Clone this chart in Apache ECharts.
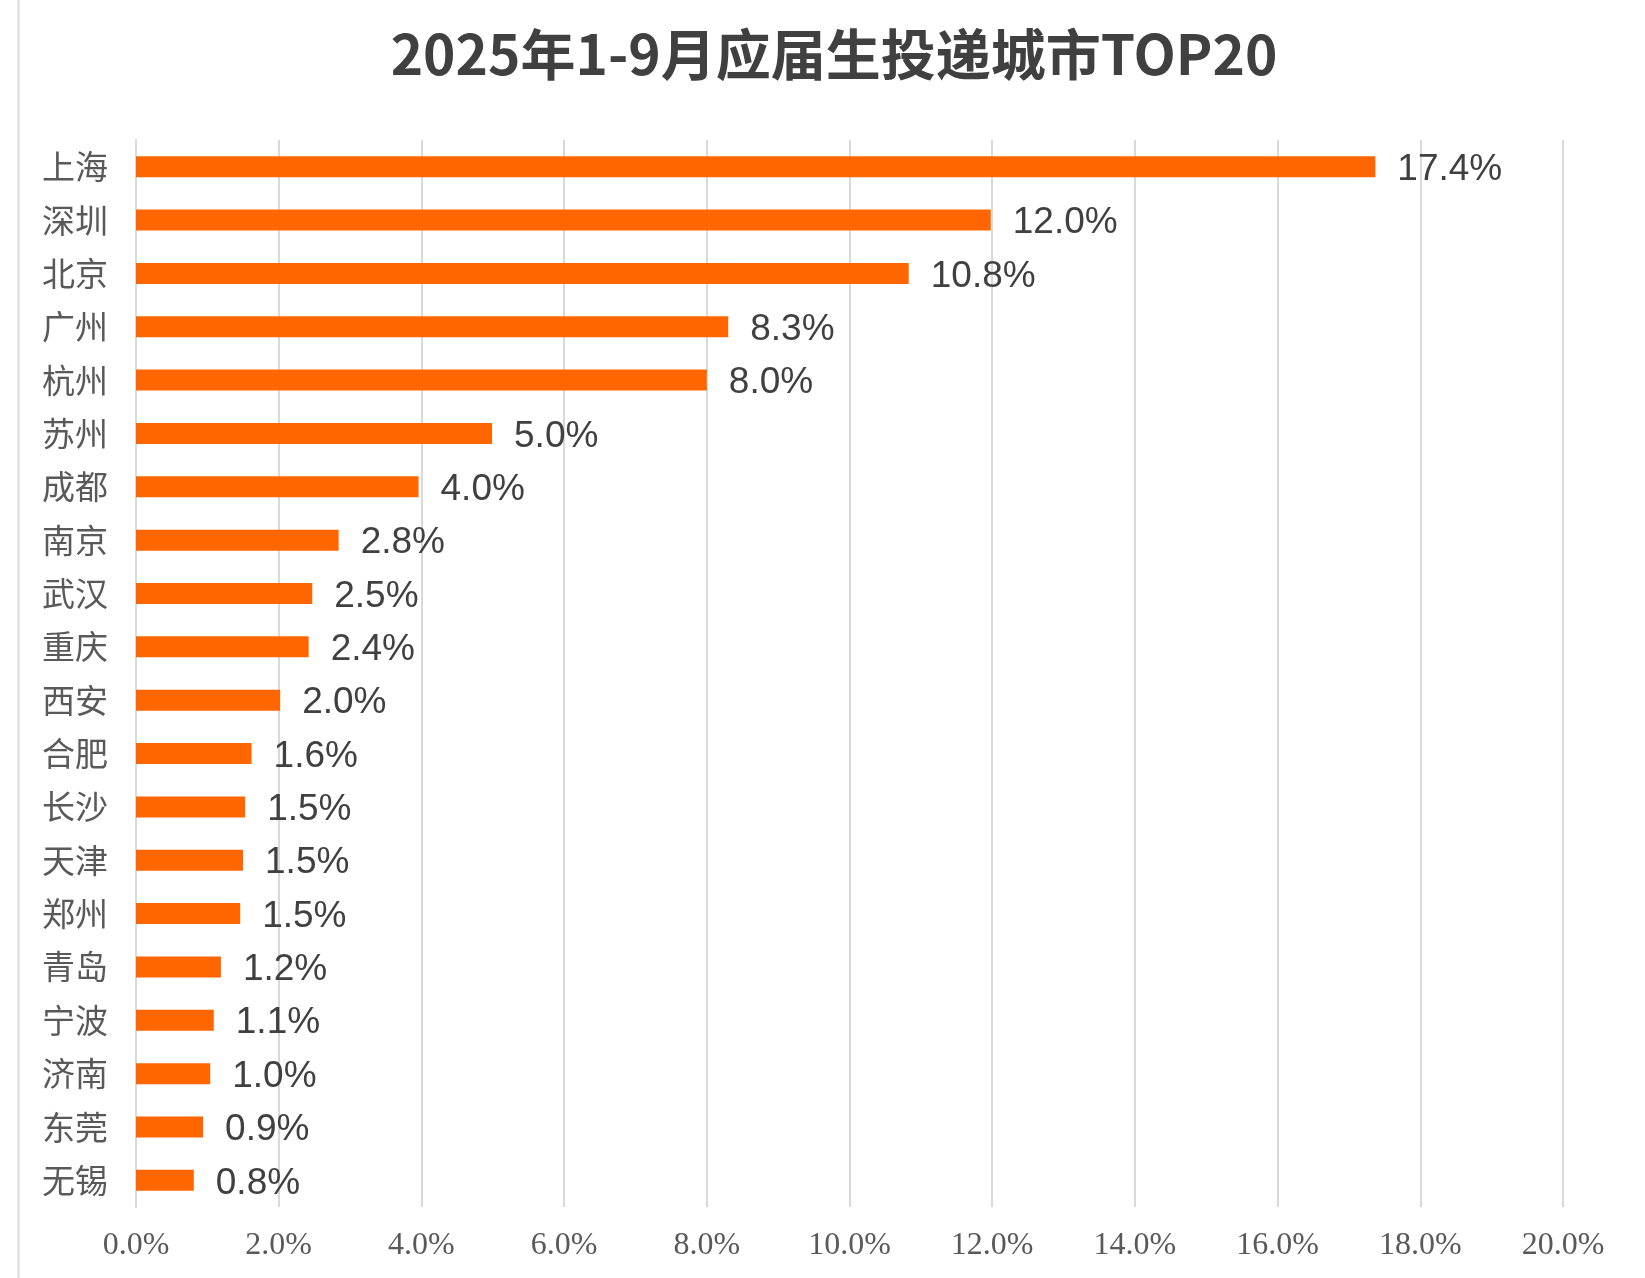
<!DOCTYPE html>
<html>
<head>
<meta charset="utf-8">
<style>html,body{margin:0;padding:0;background:#fff;}#c{width:1645px;height:1278px;}</style>
<script src="https://cdn.jsdelivr.net/npm/echarts@6/dist/echarts.min.js"></script>
</head>
<body>
<div id="c"></div>
<script>
const titleText = '2025年1-9月应届生投递城市TOP20';
const cities = ['上海','深圳','北京','广州','杭州','苏州','成都','南京','武汉','重庆','西安','合肥','长沙','天津','郑州','青岛','宁波','济南','东莞','无锡'];
const shares = [17.37, 11.98, 10.83, 8.30, 8.00, 4.99, 3.96, 2.84, 2.47, 2.42, 2.02, 1.62, 1.53, 1.50, 1.46, 1.19, 1.09, 1.04, 0.94, 0.81];
const xTicks = [0, 2, 4, 6, 8, 10, 12, 14, 16, 18, 20];

const chart = echarts.init(document.getElementById('c'), null, {renderer: 'canvas'});
chart.setOption({
  backgroundColor: '#ffffff',
  animation: false,
  title: {
    text: titleText,
    left: 829,
    top: 22,
    textAlign: 'center',
    textStyle: {fontFamily: '"Noto Sans CJK SC", sans-serif', fontSize: 55, fontWeight: 'bold', color: '#404040'}
  },
  graphic: [{
    type: 'line',
    shape: {x1: 18.5, y1: 0, x2: 18.5, y2: 1278},
    style: {stroke: '#d9d9d9', lineWidth: 2}
  }],
  grid: {left: 136, right: 82, top: 140, bottom: 71, containLabel: false},
  xAxis: {
    type: 'value',
    min: xTicks[0],
    max: xTicks[xTicks.length - 1],
    interval: 2,
    axisLine: {show: false},
    axisTick: {show: false},
    splitLine: {show: true, lineStyle: {color: '#d9d9d9', width: 2}},
    axisLabel: {
      margin: 23,
      fontFamily: '"Liberation Serif", serif',
      fontSize: 32,
      color: '#595959',
      formatter: v => v.toFixed(1) + '%'
    }
  },
  yAxis: {
    type: 'category',
    data: cities,
    inverse: true,
    axisLine: {show: true, lineStyle: {color: '#d9d9d9', width: 2}},
    axisTick: {show: false},
    axisLabel: {
      margin: 28,
      fontFamily: '"Noto Sans CJK SC", sans-serif',
      fontSize: 33,
      color: '#595959'
    }
  },
  series: [{
    type: 'bar',
    data: shares,
    barWidth: 21,
    itemStyle: {color: '#FF6600'},
    label: {
      show: true,
      position: 'right',
      distance: 22,
      offset: [0, 3],
      fontFamily: '"Liberation Sans", Arial, sans-serif',
      fontSize: 37,
      color: '#404040',
      formatter: p => p.value.toFixed(1) + '%'
    }
  }]
});
</script>
</body>
</html>
